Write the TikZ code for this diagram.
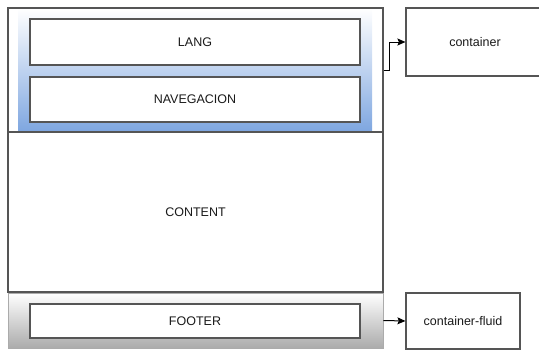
\documentclass[tikz,border=0pt]{standalone}
\usepackage{fontspec}
\setmainfont{Liberation Sans}
\usetikzlibrary{arrows.meta}
\definecolor{edge}{HTML}{555555}
\definecolor{navblue}{HTML}{7EA6E0}
\definecolor{navmid}{HTML}{C4D6F1}
\definecolor{footgray}{HTML}{ABABAB}
\definecolor{footmid}{HTML}{DCDCDC}
\definecolor{ink}{HTML}{1A1A1A}
\tikzset{
  box/.style={draw=edge, line width=1.2pt, fill=white, rectangle, inner sep=0pt,
    text=ink, font=\fontsize{12.5}{14}\selectfont},
  frame/.style={draw=edge, line width=1.2pt, rectangle, inner sep=0pt},
  link/.style={draw=black, line width=1pt, -{Stealth[length=8pt,width=7pt,inset=1.5pt]}}
}
\begin{document}
\begin{tikzpicture}[x=1pt,y=-1pt]
  \useasboundingbox (0,0) rectangle (539,351);
  % header band with a blue gradient
  \shade[top color=white, middle color=navmid, bottom color=navblue] (18,8) rectangle (372,132);
  \node[frame, minimum width=375pt, minimum height=124pt] (header) at (195.5,70) {};
  \node[box, minimum width=330pt, minimum height=46pt] (lang) at (195,42) {LANG};
  \node[box, minimum width=330pt, minimum height=45pt] (nav) at (195,99.5) {NAVEGACION};
  % main content area
  \node[box, minimum width=375pt, minimum height=160pt] (content) at (195.5,212) {CONTENT};
  % footer band with a grey gradient
  \shade[top color=white, middle color=footmid, bottom color=footgray] (8,293) rectangle (383,348);
  \node[draw=footgray, line width=0.8pt, rectangle, inner sep=0pt,
        minimum width=375pt, minimum height=55pt] (footer) at (195.5,320.5) {};
  \node[box, minimum width=330pt, minimum height=34pt] (foot) at (195,321) {FOOTER};
  % class labels
  \begin{scope}
    \clip (0,0) rectangle (539,351);
    \node[box, minimum width=138pt, minimum height=68pt] (container) at (475,42) {container};
  \end{scope}
  \node[box, minimum width=114pt, minimum height=56pt] (fluid) at (463,321) {container-fluid};
  % connectors
  \draw[link] (header.east) -- ++(6,0) |- (container.west);
  \draw[link] (footer.east) -- (fluid.west);
\end{tikzpicture}
\end{document}
